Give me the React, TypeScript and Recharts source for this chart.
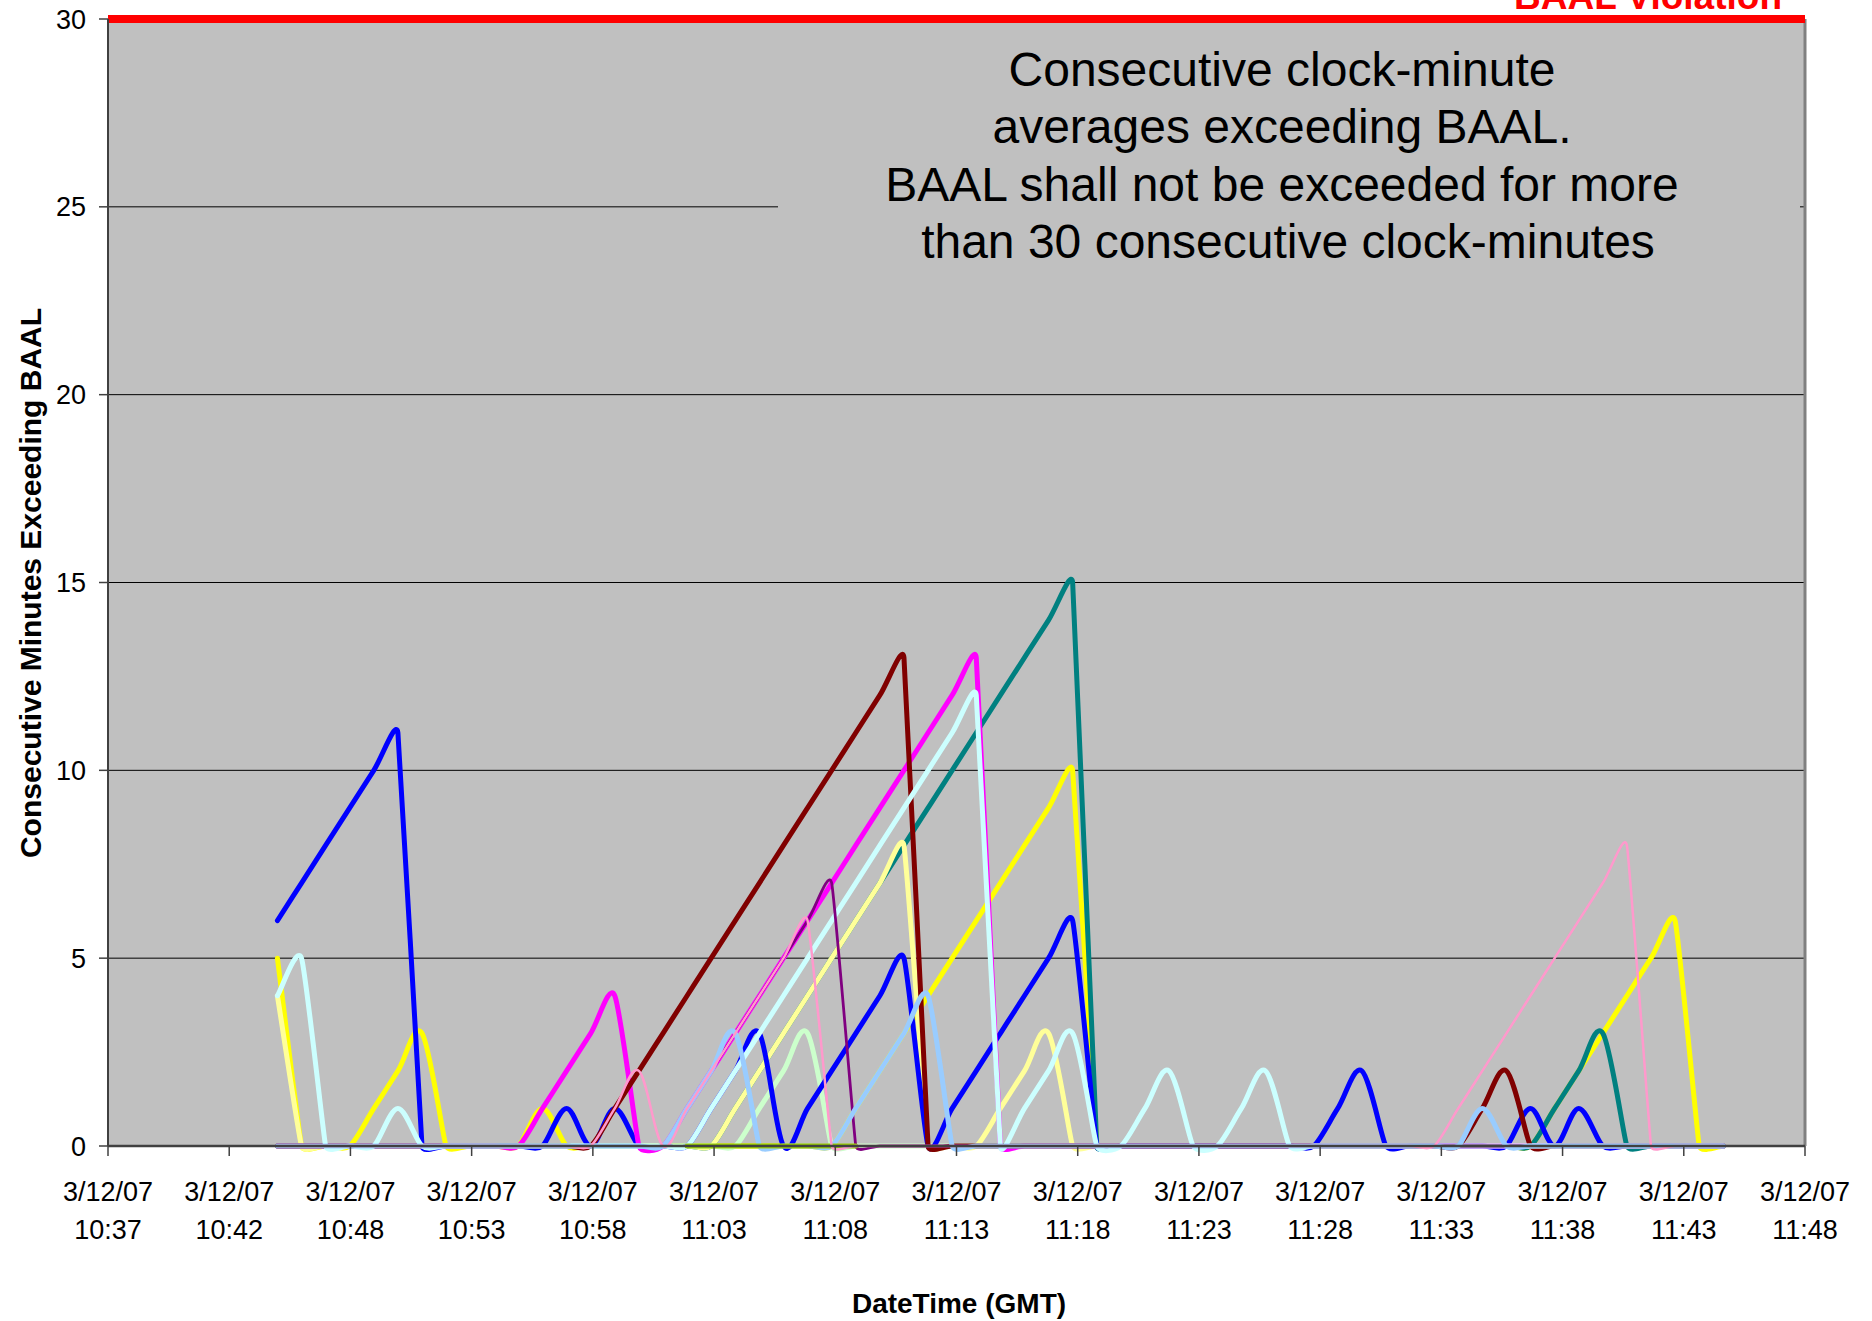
import { CartesianGrid, Line, LineChart, ReferenceLine, XAxis, YAxis } from "recharts";

const font = "'Liberation Sans', Arial, sans-serif";

// clock-minute averages 10:44 .. 11:44, plotted at the middle of each minute
// (x = minutes after 10:37:00)
const firstMinute = 7;
const xMin = 0.47;
const xMax = 70.89;
const xTickLabels = [
  "10:37", "10:42", "10:48", "10:53", "10:58", "11:03", "11:08", "11:13",
  "11:18", "11:23", "11:28", "11:33", "11:38", "11:43", "11:48",
];
const dateLabel = "3/12/07";
const yTicks = [0, 5, 10, 15, 20, 25, 30];
const baalLimit = 30;

// one value per clock minute, k = 7 .. 67
const blue = [
  6, 7, 8, 9, 10, 11, 0, 0, 0, 0,
  0, 0, 1, 0, 1, 0, 0, 0, 1, 2,
  3, 0, 1, 2, 3, 4, 5, 0, 1, 2,
  3, 4, 5, 6, 0, 0, 0, 0, 0, 0,
  0, 0, 0, 0, 1, 2, 0, 0, 0, 0,
  0, 0, 1, 0, 1, 0, 0, 0, 0, 0,
  0,
];
const yellow = [
  5, 0, 0, 0, 1, 2, 3, 0, 0, 0,
  0, 1, 0, 0, 0, 0, 0, 0, 0, 0,
  0, 0, 0, 0, 1, 2, 3, 4, 5, 6,
  7, 8, 9, 10, 0, 0, 0, 0, 0, 0,
  0, 0, 0, 0, 0, 0, 0, 0, 0, 0,
  0, 0, 0, 1, 2, 3, 4, 5, 6, 0,
  0,
];
const darkRed = [
  0, 0, 0, 0, 0, 0, 0, 0, 0, 0,
  0, 0, 0, 0, 1, 2, 3, 4, 5, 6,
  7, 8, 9, 10, 11, 12, 13, 0, 0, 0,
  0, 0, 0, 0, 0, 0, 0, 0, 0, 0,
  0, 0, 0, 0, 0, 0, 0, 0, 0, 0,
  1, 2, 0, 0, 0, 0, 0, 0, 0, 0,
  0,
];
const teal = [
  0, 0, 0, 0, 0, 0, 0, 0, 0, 0,
  0, 0, 0, 0, 0, 0, 0, 0, 0, 1,
  2, 3, 4, 5, 6, 7, 8, 9, 10, 11,
  12, 13, 14, 15, 0, 0, 0, 0, 0, 0,
  0, 0, 0, 0, 0, 0, 0, 0, 0, 0,
  0, 0, 0, 1, 2, 3, 0, 0, 0, 0,
  0,
];
const magenta = [
  0, 0, 0, 0, 0, 0, 0, 0, 0, 0,
  0, 1, 2, 3, 4, 0, 0, 1, 2, 3,
  4, 5, 6, 7, 8, 9, 10, 11, 12, 13,
  0, 0, 0, 0, 0, 0, 0, 0, 0, 0,
  0, 0, 0, 0, 0, 0, 0, 0, 0, 0,
  0, 0, 0, 0, 0, 0, 0, 0, 0, 0,
  0,
];
const purple = [
  0, 0, 0, 0, 0, 0, 0, 0, 0, 0,
  0, 0, 0, 0, 0, 0, 0, 1, 2, 3,
  4, 5, 6, 7, 0, 0, 0, 0, 0, 0,
  0, 0, 0, 0, 0, 0, 0, 0, 0, 0,
  0, 0, 0, 0, 0, 0, 0, 0, 0, 0,
  0, 0, 0, 0, 0, 0, 0, 0, 0, 0,
  0,
];
const lightCyan = [
  4, 5, 0, 0, 0, 1, 0, 0, 0, 0,
  0, 0, 0, 0, 0, 0, 0, 0, 1, 2,
  3, 4, 5, 6, 7, 8, 9, 10, 11, 12,
  0, 1, 2, 3, 0, 0, 1, 2, 0, 0,
  1, 2, 0, 0, 0, 0, 0, 0, 0, 0,
  0, 0, 0, 0, 0, 0, 0, 0, 0, 0,
  0,
];
const lightYellow = [
  4, 0, 0, 0, 0, 0, 0, 0, 0, 0,
  0, 0, 0, 0, 0, 0, 0, 0, 0, 1,
  2, 3, 4, 5, 6, 7, 8, 0, 0, 0,
  1, 2, 3, 0, 0, 0, 0, 0, 0, 0,
  0, 0, 0, 0, 0, 0, 0, 0, 0, 0,
  0, 0, 0, 0, 0, 0, 0, 0, 0, 0,
  0,
];
const lightGreen = [
  0, 0, 0, 0, 0, 0, 0, 0, 0, 0,
  0, 0, 0, 0, 0, 0, 0, 0, 0, 0,
  1, 2, 3, 0, 0, 0, 0, 0, 0, 0,
  0, 0, 0, 0, 0, 0, 0, 0, 0, 0,
  0, 0, 0, 0, 0, 0, 0, 0, 0, 0,
  0, 0, 0, 0, 0, 0, 0, 0, 0, 0,
  0,
];
const paleBlue = [
  0, 0, 0, 0, 0, 0, 0, 0, 0, 0,
  0, 0, 0, 0, 0, 0, 0, 1, 2, 3,
  0, 0, 0, 0, 1, 2, 3, 4, 0, 0,
  0, 0, 0, 0, 0, 0, 0, 0, 0, 0,
  0, 0, 0, 0, 0, 0, 0, 0, 0, 0,
  1, 0, 0, 0, 0, 0, 0, 0, 0, 0,
  0,
];
const lime = [
  null, null, null, null, null, null, null, null, null, null,
  null, null, null, null, null, null, null, 0, 0, 0,
  0, 0, 0, 0, 0, null, null, null, null, null,
  null, null, null, null, null, null, null, null, null, null,
  null, null, null, null, null, null, null, null, null, null,
  null, null, null, null, null, null, null, null, null, null,
  null,
];
const rose = [
  0, 0, 0, 0, 0, 0, 0, 0, 0, 0,
  0, 0, 0, 0, 1, 2, 0, 1, 2, 3,
  4, 5, 6, 0, 0, 0, 0, 0, 0, 0,
  0, 0, 0, 0, 0, 0, 0, 0, 0, 0,
  0, 0, 0, 0, 0, 0, 0, 0, 0, 1,
  2, 3, 4, 5, 6, 7, 8, 0, 0, 0,
  0,
];

// drawing order, bottom to top
const series = [
  { key: "yellow", color: "#FFFF00", width: 5, values: yellow },
  { key: "teal", color: "#008080", width: 5, values: teal },
  { key: "lightYellow", color: "#FFFF99", width: 5, values: lightYellow },
  { key: "lightGreen", color: "#CCFFCC", width: 5, values: lightGreen },
  { key: "blue", color: "#0000FF", width: 5, values: blue },
  { key: "magenta", color: "#FF00FF", width: 5, values: magenta },
  { key: "darkRed", color: "#800000", width: 5, values: darkRed },
  { key: "lightCyan", color: "#CCFFFF", width: 5, values: lightCyan },
  { key: "purple", color: "#800080", width: 2.8, values: purple },
  { key: "paleBlue", color: "#99CCFF", width: 5, values: paleBlue },
  { key: "lime", color: "#99CC00", width: 5, values: lime },
  { key: "rose", color: "#FF99CC", width: 2.5, values: rose },
];

const rows = blue.map((_, i) => {
  const row: Record<string, number | null> = { t: firstMinute + i + 0.5 };
  series.forEach((s) => {
    row[s.key] = s.values[i];
  });
  return row;
});

const xTicks = xTickLabels.map((_, i) => xMin + (i * (xMax - xMin)) / (xTickLabels.length - 1));

// Excel-like smoothed line: cubic bezier with 1/6 tangents, capped by the shorter neighbouring segment
const excelSmooth = (context: any) => {
  let pts: number[][] = [];
  return {
    areaStart() {},
    areaEnd() {},
    lineStart() {
      pts = [];
    },
    point(x: number, y: number) {
      pts.push([+x, +y]);
    },
    lineEnd() {
      const n = pts.length;
      if (!n) return;
      context.moveTo(pts[0][0], pts[0][1]);
      if (n === 1) {
        context.lineTo(pts[0][0], pts[0][1]);
        return;
      }
      const tan = pts.map((p, i) => {
        const a = pts[Math.max(i - 1, 0)];
        const b = pts[Math.min(i + 1, n - 1)];
        let tx = (b[0] - a[0]) / 6;
        let ty = (b[1] - a[1]) / 6;
        const len = Math.hypot(tx, ty);
        const dPrev = i > 0 ? Math.hypot(p[0] - a[0], p[1] - a[1]) : Infinity;
        const dNext = i < n - 1 ? Math.hypot(b[0] - p[0], b[1] - p[1]) : Infinity;
        const lim = Math.min(dPrev, dNext) / 3;
        if (len > lim && len > 0) {
          tx *= lim / len;
          ty *= lim / len;
        }
        return [tx, ty];
      });
      for (let i = 0; i < n - 1; i++) {
        const p = pts[i];
        const q = pts[i + 1];
        context.bezierCurveTo(
          p[0] + tan[i][0], p[1] + tan[i][1],
          q[0] - tan[i + 1][0], q[1] - tan[i + 1][1],
          q[0], q[1]
        );
      }
    },
  };
};

function DateTick(props: any) {
  const { x, y, index } = props;
  return (
    <g fontFamily={font} fontSize={27} fill="#000">
      <text x={x} y={y + 43} textAnchor="middle">{dateLabel}</text>
      <text x={x} y={y + 81} textAnchor="middle">{xTickLabels[index]}</text>
    </g>
  );
}

const noteLines = [
  "Consecutive clock-minute",
  "averages exceeding BAAL.",
  "BAAL shall not be exceeded for more",
  "than 30 consecutive clock-minutes",
];

export default function App() {
  return (
    <div style={{ position: "absolute", left: 0, top: 0, width: 1872, height: 1321, background: "#fff" }}>
      <LineChart
        width={1872}
        height={1321}
        data={rows}
        margin={{ top: 19, right: 67, bottom: 0, left: 0 }}
      >
        <CartesianGrid fill="#C0C0C0" fillOpacity={1} vertical={false} stroke="#000" strokeWidth={1} />
        <XAxis
          dataKey="t"
          type="number"
          domain={[xMin, xMax]}
          ticks={xTicks}
          interval={0}
          height={175}
          tickSize={10}
          tick={<DateTick />}
          axisLine={{ stroke: "#404040", strokeWidth: 2.5 }}
          tickLine={{ stroke: "#404040", strokeWidth: 1.5 }}
          allowDataOverflow
        />
        <YAxis
          type="number"
          domain={[0, 30]}
          ticks={yTicks}
          interval={0}
          width={108}
          tickSize={9}
          tickMargin={13}
          tick={{ fontSize: 27, fill: "#000", fontFamily: font }}
          axisLine={{ stroke: "#404040", strokeWidth: 2 }}
          tickLine={{ stroke: "#404040", strokeWidth: 1.5 }}
        />
        <ReferenceLine x={xMax} stroke="#808080" strokeWidth={3} />
        {series.map((s) => (
          <Line
            key={s.key}
            dataKey={s.key}
            type={excelSmooth as any}
            stroke={s.color}
            strokeWidth={s.width}
            strokeLinejoin="round"
            strokeLinecap="round"
            dot={false}
            activeDot={false}
            isAnimationActive={false}
          />
        ))}
        <ReferenceLine y={baalLimit} stroke="#FF0000" strokeWidth={8} />
      </LineChart>
      <svg
        width={1872}
        height={1321}
        style={{ position: "absolute", left: 0, top: 0, pointerEvents: "none" }}
        fontFamily={font}
      >
        <text x={1782} y={9} textAnchor="end" fontSize={37} fontWeight="bold" fill="#FF0000">
          BAAL Violation
        </text>
        <rect x={778} y={30} width={1022} height={255} fill="#C0C0C0" />
        {noteLines.map((line, i) => (
          <text key={line} x={i === 3 ? 1288 : 1282} y={86 + i * 57.3} textAnchor="middle" fontSize={48} fill="#000">
            {line}
          </text>
        ))}
        <text
          x={41}
          y={583}
          transform="rotate(-90 41 583)"
          textAnchor="middle"
          fontSize={30}
          fontWeight="bold"
          fill="#000"
        >
          Consecutive Minutes Exceeding BAAL
        </text>
        <text x={959} y={1313} textAnchor="middle" fontSize={28} fontWeight="bold" fill="#000">
          DateTime (GMT)
        </text>
      </svg>
    </div>
  );
}
